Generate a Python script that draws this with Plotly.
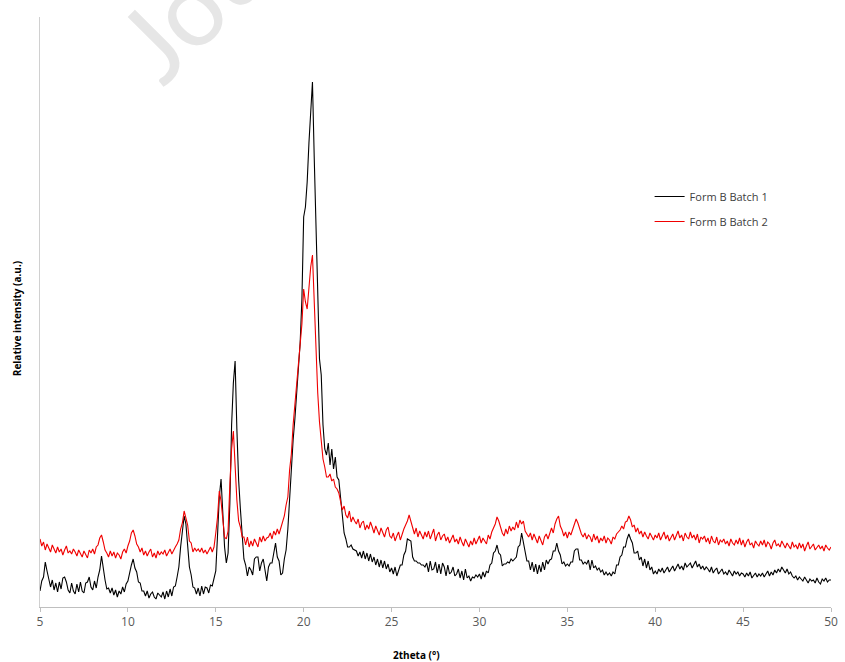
import plotly.graph_objects as go

# 2theta scan grid: 5.0 to 50.0 deg in 0.1 deg steps
two_theta = [round(5 + 0.1 * i, 1) for i in range(451)]

# Form B Batch 1 intensity (a.u.), one row per degree (x.0 ... x.9)
batch1 = [
    16, 26, 30, 45, 36, 28, 20, 27, 17, 24,        # 5
    15, 25, 18, 29, 30, 25, 17, 14, 24, 16,        # 6
    13, 23, 15, 25, 16, 14, 24, 25, 30, 20,        # 7
    17, 26, 19, 30, 37, 51, 36, 27, 18, 19,        # 8
    14, 19, 12, 17, 10, 16, 13, 20, 15, 23,        # 9
    26, 36, 42, 48, 39, 35, 25, 24, 16, 16,        # 10
    11, 16, 9, 13, 15, 10, 8, 14, 12, 10,          # 11
    15, 8, 16, 10, 18, 11, 20, 21, 30, 40,         # 12
    60, 75, 91, 83, 65, 40, 32, 20, 19, 13,        # 13
    19, 11, 21, 13, 20, 19, 14, 22, 21, 29,        # 14
    36, 72, 110, 128, 88, 60, 44, 54, 103, 182,    # 15
    224, 246, 178, 127, 98, 74, 48, 42, 31, 40,    # 16
    37, 32, 48, 50, 50, 36, 44, 48, 38, 26,        # 17
    40, 44, 44, 53, 64, 50, 46, 32, 34, 48,        # 18
    57, 78, 112, 138, 167, 188, 212, 233, 264, 308,  # 19
    390, 400, 425, 464, 497, 525, 450, 380, 310, 248,  # 20
    232, 182, 158, 152, 164, 142, 158, 138, 150, 130,  # 21
    127, 110, 98, 74, 68, 60, 60, 62, 58, 57,      # 22
    56, 51, 55, 49, 56, 48, 54, 46, 53, 45,        # 23
    50, 42, 48, 40, 47, 39, 46, 38, 43, 35,        # 24
    39, 33, 40, 31, 37, 42, 42, 52, 56, 68,        # 25
    67, 66, 50, 46, 46, 44, 44, 42, 42, 40,        # 26
    44, 35, 46, 37, 38, 45, 34, 43, 33, 44,        # 27
    40, 31, 42, 33, 35, 40, 31, 33, 38, 29,        # 28
    36, 27, 38, 29, 31, 26, 30, 29, 32, 30,        # 29
    33, 28, 35, 30, 36, 34, 42, 44, 54, 56,        # 30
    62, 54, 52, 41, 43, 43, 45, 44, 48, 46,        # 31
    48, 50, 60, 62, 74, 64, 58, 46, 46, 37,        # 32
    45, 35, 43, 33, 42, 35, 45, 37, 47, 43,        # 33
    47, 48, 56, 56, 64, 56, 52, 43, 45, 41,        # 34
    43, 41, 45, 45, 56, 58, 58, 47, 47, 43,        # 35
    45, 43, 47, 37, 47, 39, 41, 37, 39, 35,        # 36
    37, 32, 35, 32, 34, 31, 35, 33, 42, 42,        # 37
    50, 52, 60, 60, 68, 73, 68, 64, 54, 54,        # 38
    56, 47, 50, 41, 48, 39, 46, 37, 40, 33,        # 39
    36, 33, 38, 35, 39, 34, 37, 40, 35, 38,        # 40
    41, 36, 39, 43, 38, 41, 37, 44, 40, 42,        # 41
    44, 39, 42, 46, 40, 43, 38, 41, 37, 40,        # 42
    38, 35, 40, 34, 37, 39, 33, 36, 38, 33,        # 43
    35, 32, 37, 34, 31, 36, 33, 35, 31, 34,        # 44
    33, 30, 34, 31, 35, 29, 32, 34, 30, 33,        # 45
    31, 34, 30, 33, 36, 31, 35, 32, 37, 34,        # 46
    38, 35, 40, 37, 34, 38, 33, 35, 31, 29,        # 47
    31, 27, 30, 28, 26, 30, 27, 24, 28, 26,        # 48
    27, 24, 29, 25, 23, 28, 26, 29, 25, 27,        # 49
    27,                                            # 50
]

# Form B Batch 2 intensity (a.u.)
batch2 = [
    68, 61, 65, 57, 63, 59, 55, 62, 58, 54,        # 5
    60, 55, 58, 52, 57, 61, 54, 56, 53, 58,        # 6
    55, 51, 57, 54, 50, 56, 53, 49, 57, 54,        # 7
    58, 53, 60, 62, 69, 72, 65, 57, 54, 50,        # 8
    56, 51, 55, 49, 54, 52, 48, 55, 58, 54,        # 9
    61, 66, 74, 77, 71, 63, 60, 55, 59, 52,        # 10
    56, 51, 55, 58, 50, 54, 49, 56, 52, 55,        # 11
    53, 57, 51, 55, 58, 53, 57, 60, 63, 67,        # 12
    78, 84, 96, 88, 82, 66, 64, 55, 59, 56,        # 13
    58, 55, 59, 54, 57, 53, 56, 60, 55, 60,        # 14
    74, 90, 116, 106, 88, 70, 68, 76, 122, 158,    # 15
    176, 138, 107, 86, 80, 70, 70, 62, 70, 60,     # 16
    66, 61, 68, 64, 60, 70, 65, 71, 66, 69,        # 17
    70, 74, 68, 76, 72, 78, 73, 79, 86, 91,        # 18
    102, 110, 137, 153, 182, 203, 224, 238, 260, 283,  # 19
    318, 305, 298, 322, 340, 352, 300, 255, 214, 185,  # 20
    167, 148, 140, 130, 130, 133, 126, 128, 120, 118,  # 21
    114, 104, 97, 101, 92, 89, 96, 85, 90, 86,     # 22
    83, 88, 79, 84, 86, 77, 82, 78, 85, 80,        # 23
    74, 81, 76, 72, 79, 75, 70, 77, 80, 71,        # 24
    69, 74, 66, 71, 75, 67, 73, 78, 82, 86,        # 25
    92, 85, 80, 73, 79, 70, 76, 72, 68, 75,        # 26
    70, 76, 68, 73, 78, 66, 72, 75, 67, 71,        # 27
    73, 66, 70, 64, 69, 72, 65, 68, 63, 70,        # 28
    65, 61, 68, 64, 60, 66, 62, 69, 63, 67,        # 29
    71, 64, 69, 66, 63, 72, 68, 75, 79, 83,        # 30
    90, 86, 80, 74, 71, 78, 73, 81, 76, 80,        # 31
    77, 85, 79, 87, 83, 86, 76, 73, 70, 74,        # 32
    67, 73, 69, 64, 71, 66, 62, 70, 73, 68,        # 33
    75, 79, 74, 83, 88, 91, 81, 77, 71, 75,        # 34
    69, 75, 72, 77, 83, 88, 84, 77, 73, 70,        # 35
    74, 68, 72, 70, 65, 73, 67, 71, 64, 69,        # 36
    66, 71, 64, 69, 67, 63, 70, 68, 73, 75,        # 37
    77, 81, 78, 85, 86, 91, 87, 80, 82, 75,        # 38
    79, 73, 76, 70, 75, 71, 68, 74, 70, 67,        # 39
    72, 69, 74, 67, 71, 75, 68, 72, 66, 70,        # 40
    73, 67, 71, 76, 69, 72, 66, 74, 70, 68,        # 41
    75, 69, 72, 67, 73, 64, 70, 68, 71, 65,        # 42
    69, 63, 71, 66, 64, 70, 62, 67, 65, 68,        # 43
    63, 66, 61, 68, 64, 62, 67, 63, 69, 62,        # 44
    67, 60, 65, 68, 62, 64, 59, 66, 63, 61,        # 45
    66, 62, 67, 60, 65, 63, 58, 64, 67, 61,        # 46
    63, 60, 66, 62, 59, 64, 61, 58, 65, 60,        # 47
    62, 58, 64, 59, 63, 56, 61, 65, 58, 60,        # 48
    63, 57, 60, 62, 58, 61, 56, 62, 59, 57,        # 49
    60,                                            # 50
]

x_ticks = [5, 10, 15, 20, 25, 30, 35, 40, 45, 50]
series_names = ["Form B Batch 1", "Form B Batch 2"]

W, H = 845, 662
ML, MR, MT, MB = 40, 7, 17, 55
plot_w = W - ML - MR
plot_h = H - MT - MB


def px_x(px):
    return (px - ML) / plot_w


def px_y(py):
    return (H - MB - py) / plot_h


fig = go.Figure()
fig.add_trace(go.Scatter(
    x=two_theta, y=batch1, mode="lines", name=series_names[0],
    line=dict(color="#000000", width=1.1), legendgroup="a",
))
fig.add_trace(go.Scatter(
    x=two_theta, y=batch2, mode="lines", name=series_names[1],
    line=dict(color="#f00000", width=1.1), legendgroup="b",
))

label_font = dict(family="Open Sans, Arial, sans-serif", size=10, color="#000000")

fig.update_layout(
    width=W, height=H,
    margin=dict(l=ML, r=MR, t=MT, b=MB),
    paper_bgcolor="white", plot_bgcolor="white",
    font=dict(family="Open Sans, Arial, sans-serif", color="#404040"),
    showlegend=True,
    legend=dict(
        x=px_x(655), y=px_y(182), xanchor="left", yanchor="top",
        font=dict(size=11, color="#404040"),
        bgcolor="rgba(0,0,0,0)", tracegroupgap=6, itemwidth=30,
    ),
    xaxis=dict(
        range=[5, 50], tickmode="array", tickvals=x_ticks,
        ticktext=[str(t) for t in x_ticks],
        showline=True, linecolor="#bfbfbf", linewidth=1,
        ticks="outside", ticklen=4, tickcolor="#bfbfbf",
        showgrid=False, zeroline=False,
        tickfont=dict(size=12, color="#595959"),
    ),
    yaxis=dict(
        range=[0, 590], showline=True, linecolor="#d0d0d0", linewidth=1,
        showticklabels=False, ticks="", showgrid=False, zeroline=False,
    ),
    annotations=[
        dict(text="Journal Pre-proof", xref="paper", yref="paper",
             x=px_x(87), y=px_y(106), xanchor="left", yanchor="bottom",
             textangle=-45, showarrow=False,
             font=dict(family="Lato, sans-serif", size=105, color="#e6e6e6")),
        dict(text="<b>2theta (°)</b>", xref="paper", yref="paper",
             x=px_x(420), y=px_y(655), xanchor="center", yanchor="middle",
             showarrow=False, font=label_font),
        dict(text="<b>Relative intensity (a.u.)</b>", xref="paper", yref="paper",
             x=px_x(17), y=px_y(319), xanchor="center", yanchor="middle",
             textangle=-90, showarrow=False, font=label_font),
    ],
)

fig.write_html("out.html")
